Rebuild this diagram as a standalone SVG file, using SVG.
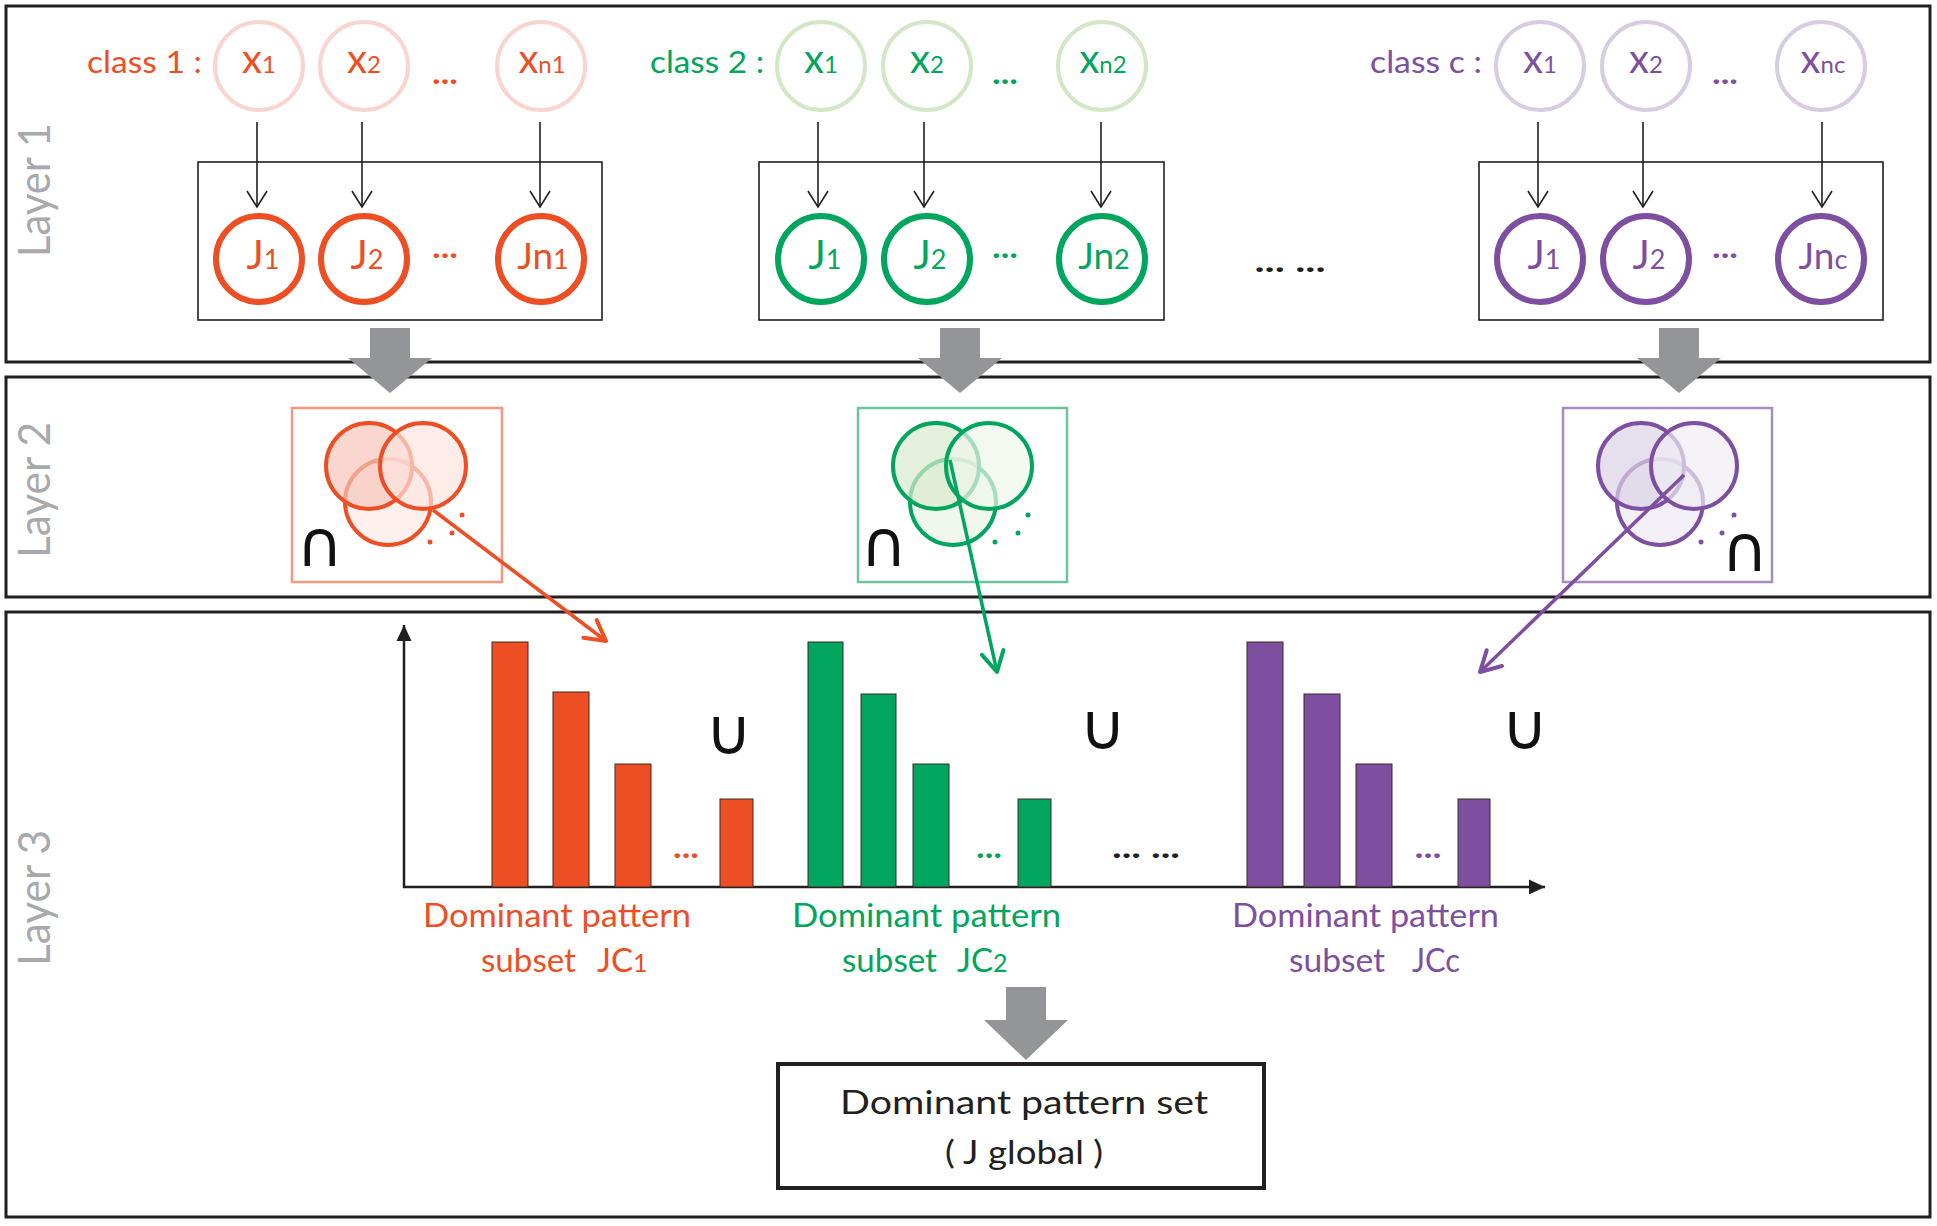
<svg xmlns="http://www.w3.org/2000/svg" width="1937" height="1226" viewBox="0 0 1937 1226">
<style>
text{font-family:Lato,"Open Sans","Liberation Sans",sans-serif}
.layer{fill:none;stroke:#231F20;stroke-width:3}
.lbl{fill:#A7A9AC;font-size:44px;text-anchor:middle}
.inner{fill:none;stroke:#231F20;stroke-width:1.6}
.r{fill:#EE4E24}.g{fill:#00A65D}.p{fill:#7E4FA0}.k{fill:#231F20}
.xr{fill:none;stroke:#F9D5CE;stroke-width:4}
.xg{fill:none;stroke:#D3E6C6;stroke-width:4}
.xp{fill:none;stroke:#D7CCE2;stroke-width:4}
.jr{fill:none;stroke:#EE4E24;stroke-width:6}
.jg{fill:none;stroke:#00A65D;stroke-width:6}
.jp{fill:none;stroke:#7E4FA0;stroke-width:6}
.xt{font-size:40px;text-anchor:middle}
.jt{font-size:41px;text-anchor:middle}
.jn{font-size:37px;text-anchor:middle}
.sx{font-size:24px}
.sj{font-size:27px}
.dots{font-size:30px;font-weight:bold;text-anchor:middle}
.big{fill:#939598}
.conn{stroke:#231F20;stroke-width:1.6;fill:none;marker-end:url(#v)}
.sym{font-family:"DejaVu Sans",sans-serif;font-size:64px;fill:#111;text-anchor:middle}
.cls{font-size:31px}
.bar{stroke:#3B2A22;stroke-width:1}
.bl{font-size:33px}
.vr{stroke:#EE4E24;stroke-width:4}
.vg{stroke:#00A65D;stroke-width:4}
.vp{stroke:#7E4FA0;stroke-width:4}
</style>
<defs>
<marker id="v" markerUnits="userSpaceOnUse" viewBox="-20 -12 24 24" refX="0" refY="0" markerWidth="24" markerHeight="24" orient="auto" overflow="visible"><path d="M-16,-10 L0,0 L-16,10" fill="none" stroke="#231F20" stroke-width="1.6"/></marker>
<marker id="ax" markerUnits="userSpaceOnUse" viewBox="-18 -9 20 18" refX="0" refY="0" markerWidth="20" markerHeight="18" orient="auto" overflow="visible"><path d="M-16,-7.5 L0,0 L-16,7.5 Z" fill="#231F20"/></marker>
<marker id="hr" markerUnits="userSpaceOnUse" viewBox="-30 -20 40 40" refX="0" refY="0" markerWidth="40" markerHeight="40" orient="auto" overflow="visible"><path d="M-20,-11 L0,0 L-20,11" fill="none" stroke="#EE4E24" stroke-width="4" stroke-linecap="round" stroke-linejoin="round"/></marker>
<marker id="hg" markerUnits="userSpaceOnUse" viewBox="-30 -20 40 40" refX="0" refY="0" markerWidth="40" markerHeight="40" orient="auto" overflow="visible"><path d="M-20,-11 L0,0 L-20,11" fill="none" stroke="#00A65D" stroke-width="4" stroke-linecap="round" stroke-linejoin="round"/></marker>
<marker id="hp" markerUnits="userSpaceOnUse" viewBox="-30 -20 40 40" refX="0" refY="0" markerWidth="40" markerHeight="40" orient="auto" overflow="visible"><path d="M-20,-11 L0,0 L-20,11" fill="none" stroke="#7E4FA0" stroke-width="4" stroke-linecap="round" stroke-linejoin="round"/></marker>
</defs>
<rect width="1937" height="1226" fill="#fff"/>

<!-- Layer frames -->
<g id="layer1"><rect class="layer" x="6" y="6" width="1924" height="356"/><text class="lbl" transform="translate(50,190) rotate(-90)" textLength="134" lengthAdjust="spacingAndGlyphs">Layer 1</text></g>
<g id="layer2"><rect class="layer" x="6" y="377" width="1924" height="220"/><text class="lbl" transform="translate(50,490) rotate(-90)" textLength="136" lengthAdjust="spacingAndGlyphs">Layer 2</text></g>
<g id="layer3"><rect class="layer" x="6" y="612" width="1924" height="605"/><text class="lbl" transform="translate(50,898) rotate(-90)" textLength="136" lengthAdjust="spacingAndGlyphs">Layer 3</text></g>

<!-- Class 1 -->
<g id="class1">
<text class="cls r" x="87" y="73" textLength="115" lengthAdjust="spacingAndGlyphs">class 1 :</text>
<rect class="inner" x="198" y="162" width="404" height="158"/>
<g id="c1-x1"><circle class="xr" cx="259" cy="66" r="44"/><text class="xt r" x="259" y="73">x<tspan class="sx">1</tspan></text></g>
<g id="c1-x2"><circle class="xr" cx="364" cy="66" r="44"/><text class="xt r" x="364" y="73">x<tspan class="sx">2</tspan></text></g>
<text class="dots r" x="445" y="84" textLength="26" lengthAdjust="spacingAndGlyphs">...</text>
<g id="c1-xn"><circle class="xr" cx="541" cy="66" r="44"/><text class="xt r" x="542" y="73">x<tspan class="sx">n1</tspan></text></g>
<g id="c1-j1"><circle class="jr" cx="259" cy="259" r="43"/><text class="jt r" x="263" y="269">J<tspan class="sj">1</tspan></text></g>
<g id="c1-j2"><circle class="jr" cx="364" cy="259" r="43"/><text class="jt r" x="367" y="269">J<tspan class="sj">2</tspan></text></g>
<text class="dots r" x="445" y="258" textLength="26" lengthAdjust="spacingAndGlyphs">...</text>
<g id="c1-jn"><circle class="jr" cx="541" cy="259" r="43"/><text class="jn r" x="543" y="269">Jn<tspan class="sj">1</tspan></text></g>
</g>

<!-- Class 2 -->
<g id="class2">
<text class="cls g" x="650" y="73" textLength="114" lengthAdjust="spacingAndGlyphs">class 2 :</text>
<rect class="inner" x="759" y="162" width="405" height="158"/>
<g id="c2-x1"><circle class="xg" cx="821" cy="66" r="44"/><text class="xt g" x="821" y="73">x<tspan class="sx">1</tspan></text></g>
<g id="c2-x2"><circle class="xg" cx="927" cy="66" r="44"/><text class="xt g" x="927" y="73">x<tspan class="sx">2</tspan></text></g>
<text class="dots g" x="1005" y="84" textLength="26" lengthAdjust="spacingAndGlyphs">...</text>
<g id="c2-xn"><circle class="xg" cx="1102" cy="66" r="44"/><text class="xt g" x="1103" y="73">x<tspan class="sx">n2</tspan></text></g>
<g id="c2-j1"><circle class="jg" cx="821" cy="259" r="43"/><text class="jt g" x="825" y="269">J<tspan class="sj">1</tspan></text></g>
<g id="c2-j2"><circle class="jg" cx="927" cy="259" r="43"/><text class="jt g" x="930" y="269">J<tspan class="sj">2</tspan></text></g>
<text class="dots g" x="1005" y="258" textLength="26" lengthAdjust="spacingAndGlyphs">...</text>
<g id="c2-jn"><circle class="jg" cx="1102" cy="259" r="43"/><text class="jn g" x="1104" y="269">Jn<tspan class="sj">2</tspan></text></g>
</g>

<text class="dots k" x="1290" y="272" textLength="71" lengthAdjust="spacingAndGlyphs">... ...</text>

<!-- Class c -->
<g id="classc">
<text class="cls p" x="1370" y="73" textLength="112" lengthAdjust="spacingAndGlyphs">class c :</text>
<rect class="inner" x="1479" y="162" width="404" height="158"/>
<g id="cc-x1"><circle class="xp" cx="1540" cy="66" r="44"/><text class="xt p" x="1540" y="73">x<tspan class="sx">1</tspan></text></g>
<g id="cc-x2"><circle class="xp" cx="1646" cy="66" r="44"/><text class="xt p" x="1646" y="73">x<tspan class="sx">2</tspan></text></g>
<text class="dots p" x="1725" y="84" textLength="26" lengthAdjust="spacingAndGlyphs">...</text>
<g id="cc-xn"><circle class="xp" cx="1821" cy="66" r="44"/><text class="xt p" x="1823" y="73">x<tspan class="sx">nc</tspan></text></g>
<g id="cc-j1"><circle class="jp" cx="1540" cy="259" r="43"/><text class="jt p" x="1544" y="269">J<tspan class="sj">1</tspan></text></g>
<g id="cc-j2"><circle class="jp" cx="1646" cy="259" r="43"/><text class="jt p" x="1649" y="269">J<tspan class="sj">2</tspan></text></g>
<text class="dots p" x="1725" y="258" textLength="26" lengthAdjust="spacingAndGlyphs">...</text>
<g id="cc-jn"><circle class="jp" cx="1821" cy="259" r="43"/><text class="jn p" x="1823" y="269">Jn<tspan class="sj">c</tspan></text></g>
</g>

<!-- Layer 2 venn nodes -->
<g id="venn1">
<rect x="292" y="408" width="210" height="174" fill="#fff" stroke="#F4977E" stroke-width="2.5"/>
<circle class="vr" cx="388" cy="502" r="43" fill="#FDEAE5" fill-opacity="0.7"/>
<circle class="vr" cx="369" cy="466" r="43" fill="#F6C4B9" fill-opacity="0.7"/>
<circle class="vr" cx="423" cy="466" r="43" fill="#FCE4DE" fill-opacity="0.7"/>
<circle cx="462" cy="515" r="2.5" class="r"/><circle cx="452" cy="533" r="2.5" class="r"/><circle cx="430" cy="542" r="2.5" class="r"/>
<text class="sym" x="320" y="566">∩</text>
</g>
<g id="venn2">
<rect x="858" y="408" width="209" height="174" fill="#fff" stroke="#6CC49A" stroke-width="2.5"/>
<circle class="vg" cx="953" cy="502" r="43" fill="#EAF3E5" fill-opacity="0.7"/>
<circle class="vg" cx="936" cy="466" r="43" fill="#D9EACF" fill-opacity="0.7"/>
<circle class="vg" cx="989" cy="466" r="43" fill="#EEF5EA" fill-opacity="0.7"/>
<circle cx="1028" cy="515" r="2.5" class="g"/><circle cx="1018" cy="533" r="2.5" class="g"/><circle cx="995" cy="542" r="2.5" class="g"/>
<text class="sym" x="884" y="566">∩</text>
</g>
<g id="vennc">
<rect x="1563" y="408" width="209" height="174" fill="#fff" stroke="#A58CC2" stroke-width="2.5"/>
<circle class="vp" cx="1660" cy="502" r="43" fill="#ECE8F2" fill-opacity="0.7"/>
<circle class="vp" cx="1641" cy="466" r="43" fill="#DBD3E6" fill-opacity="0.7"/>
<circle class="vp" cx="1694" cy="466" r="43" fill="#EFECF4" fill-opacity="0.7"/>
<circle cx="1734" cy="515" r="2.5" class="p"/><circle cx="1722" cy="533" r="2.5" class="p"/><circle cx="1701" cy="542" r="2.5" class="p"/>
<text class="sym" x="1745" y="571">∩</text>
</g>

<!-- Layer 3 chart -->
<g id="chart">
<line x1="404" y1="888" x2="404" y2="625" stroke="#231F20" stroke-width="2.5" marker-end="url(#ax)"/>
<line x1="403" y1="887" x2="1545" y2="887" stroke="#231F20" stroke-width="2.5" marker-end="url(#ax)"/>
<g id="bars1">
<rect class="bar r" x="492" y="642" width="36" height="245"/>
<rect class="bar r" x="553" y="692" width="36" height="195"/>
<rect class="bar r" x="615" y="764" width="36" height="123"/>
<rect class="bar r" x="720" y="799" width="33" height="88"/>
<text class="dots r" x="686" y="858" textLength="26" lengthAdjust="spacingAndGlyphs">...</text>
<text class="sym" x="729" y="754">∪</text>
<text class="bl r" x="423" y="927" textLength="268" lengthAdjust="spacingAndGlyphs">Dominant pattern</text>
<text class="bl r" x="481" y="972" textLength="95" lengthAdjust="spacingAndGlyphs">subset</text>
<text class="bl r" x="597" y="972">JC<tspan font-size="25px">1</tspan></text>
</g>
<g id="bars2">
<rect class="bar g" x="808" y="642" width="35" height="245"/>
<rect class="bar g" x="861" y="694" width="35" height="193"/>
<rect class="bar g" x="913" y="764" width="36" height="123"/>
<rect class="bar g" x="1018" y="799" width="33" height="88"/>
<text class="dots g" x="989" y="858" textLength="26" lengthAdjust="spacingAndGlyphs">...</text>
<text class="sym" x="1103" y="749">∪</text>
<text class="bl g" x="792" y="927" textLength="269" lengthAdjust="spacingAndGlyphs">Dominant pattern</text>
<text class="bl g" x="842" y="972" textLength="95" lengthAdjust="spacingAndGlyphs">subset</text>
<text class="bl g" x="957" y="972">JC<tspan font-size="25px">2</tspan></text>
</g>
<text class="dots k" x="1146" y="858" textLength="68" lengthAdjust="spacingAndGlyphs">... ...</text>
<g id="barsc">
<rect class="bar p" x="1247" y="642" width="36" height="245"/>
<rect class="bar p" x="1304" y="694" width="36" height="193"/>
<rect class="bar p" x="1356" y="764" width="36" height="123"/>
<rect class="bar p" x="1458" y="799" width="32" height="88"/>
<text class="dots p" x="1428" y="858" textLength="27" lengthAdjust="spacingAndGlyphs">...</text>
<text class="sym" x="1525" y="749">∪</text>
<text class="bl p" x="1232" y="927" textLength="267" lengthAdjust="spacingAndGlyphs">Dominant pattern</text>
<text class="bl p" x="1289" y="972" textLength="96" lengthAdjust="spacingAndGlyphs">subset</text>
<text class="bl p" x="1412" y="972" textLength="48" lengthAdjust="spacingAndGlyphs">JCc</text>
</g>
</g>

<g id="global">
<rect x="778" y="1064" width="486" height="124" fill="#fff" stroke="#231F20" stroke-width="4"/>
<text class="bl k" x="1024" y="1114" font-size="35" text-anchor="middle" textLength="368" lengthAdjust="spacingAndGlyphs">Dominant pattern set</text>
<text class="bl k" x="1024" y="1164" font-size="35" text-anchor="middle" textLength="158" lengthAdjust="spacingAndGlyphs">( J global )</text>
</g>

<!-- Connectors -->
<g id="connectors">
<line class="conn" x1="257" y1="122" x2="257" y2="207"/>
<line class="conn" x1="362" y1="122" x2="362" y2="207"/>
<line class="conn" x1="540" y1="122" x2="540" y2="207"/>
<line class="conn" x1="818" y1="122" x2="818" y2="207"/>
<line class="conn" x1="924" y1="122" x2="924" y2="207"/>
<line class="conn" x1="1101" y1="122" x2="1101" y2="207"/>
<line class="conn" x1="1538" y1="122" x2="1538" y2="207"/>
<line class="conn" x1="1643" y1="122" x2="1643" y2="207"/>
<line class="conn" x1="1822" y1="122" x2="1822" y2="207"/>
<polygon class="big" points="370,328 410,328 410,358 432,358 390,393 348,358 370,358"/>
<polygon class="big" points="940,328 980,328 980,358 1002,358 960,393 918,358 940,358"/>
<polygon class="big" points="1659,328 1699,328 1699,358 1721,358 1679,393 1637,358 1659,358"/>
<polygon class="big" points="1006,987 1046,987 1046,1020 1068,1020 1026,1060 984,1020 1006,1020"/>
<line x1="433" y1="510" x2="606" y2="641" stroke="#EE4E24" stroke-width="3.5" marker-end="url(#hr)"/>
<line x1="950" y1="460" x2="997" y2="672" stroke="#00A65D" stroke-width="3.5" marker-end="url(#hg)"/>
<line x1="1684" y1="475" x2="1480" y2="672" stroke="#7E4FA0" stroke-width="3.5" marker-end="url(#hp)"/>
</g>
</svg>
